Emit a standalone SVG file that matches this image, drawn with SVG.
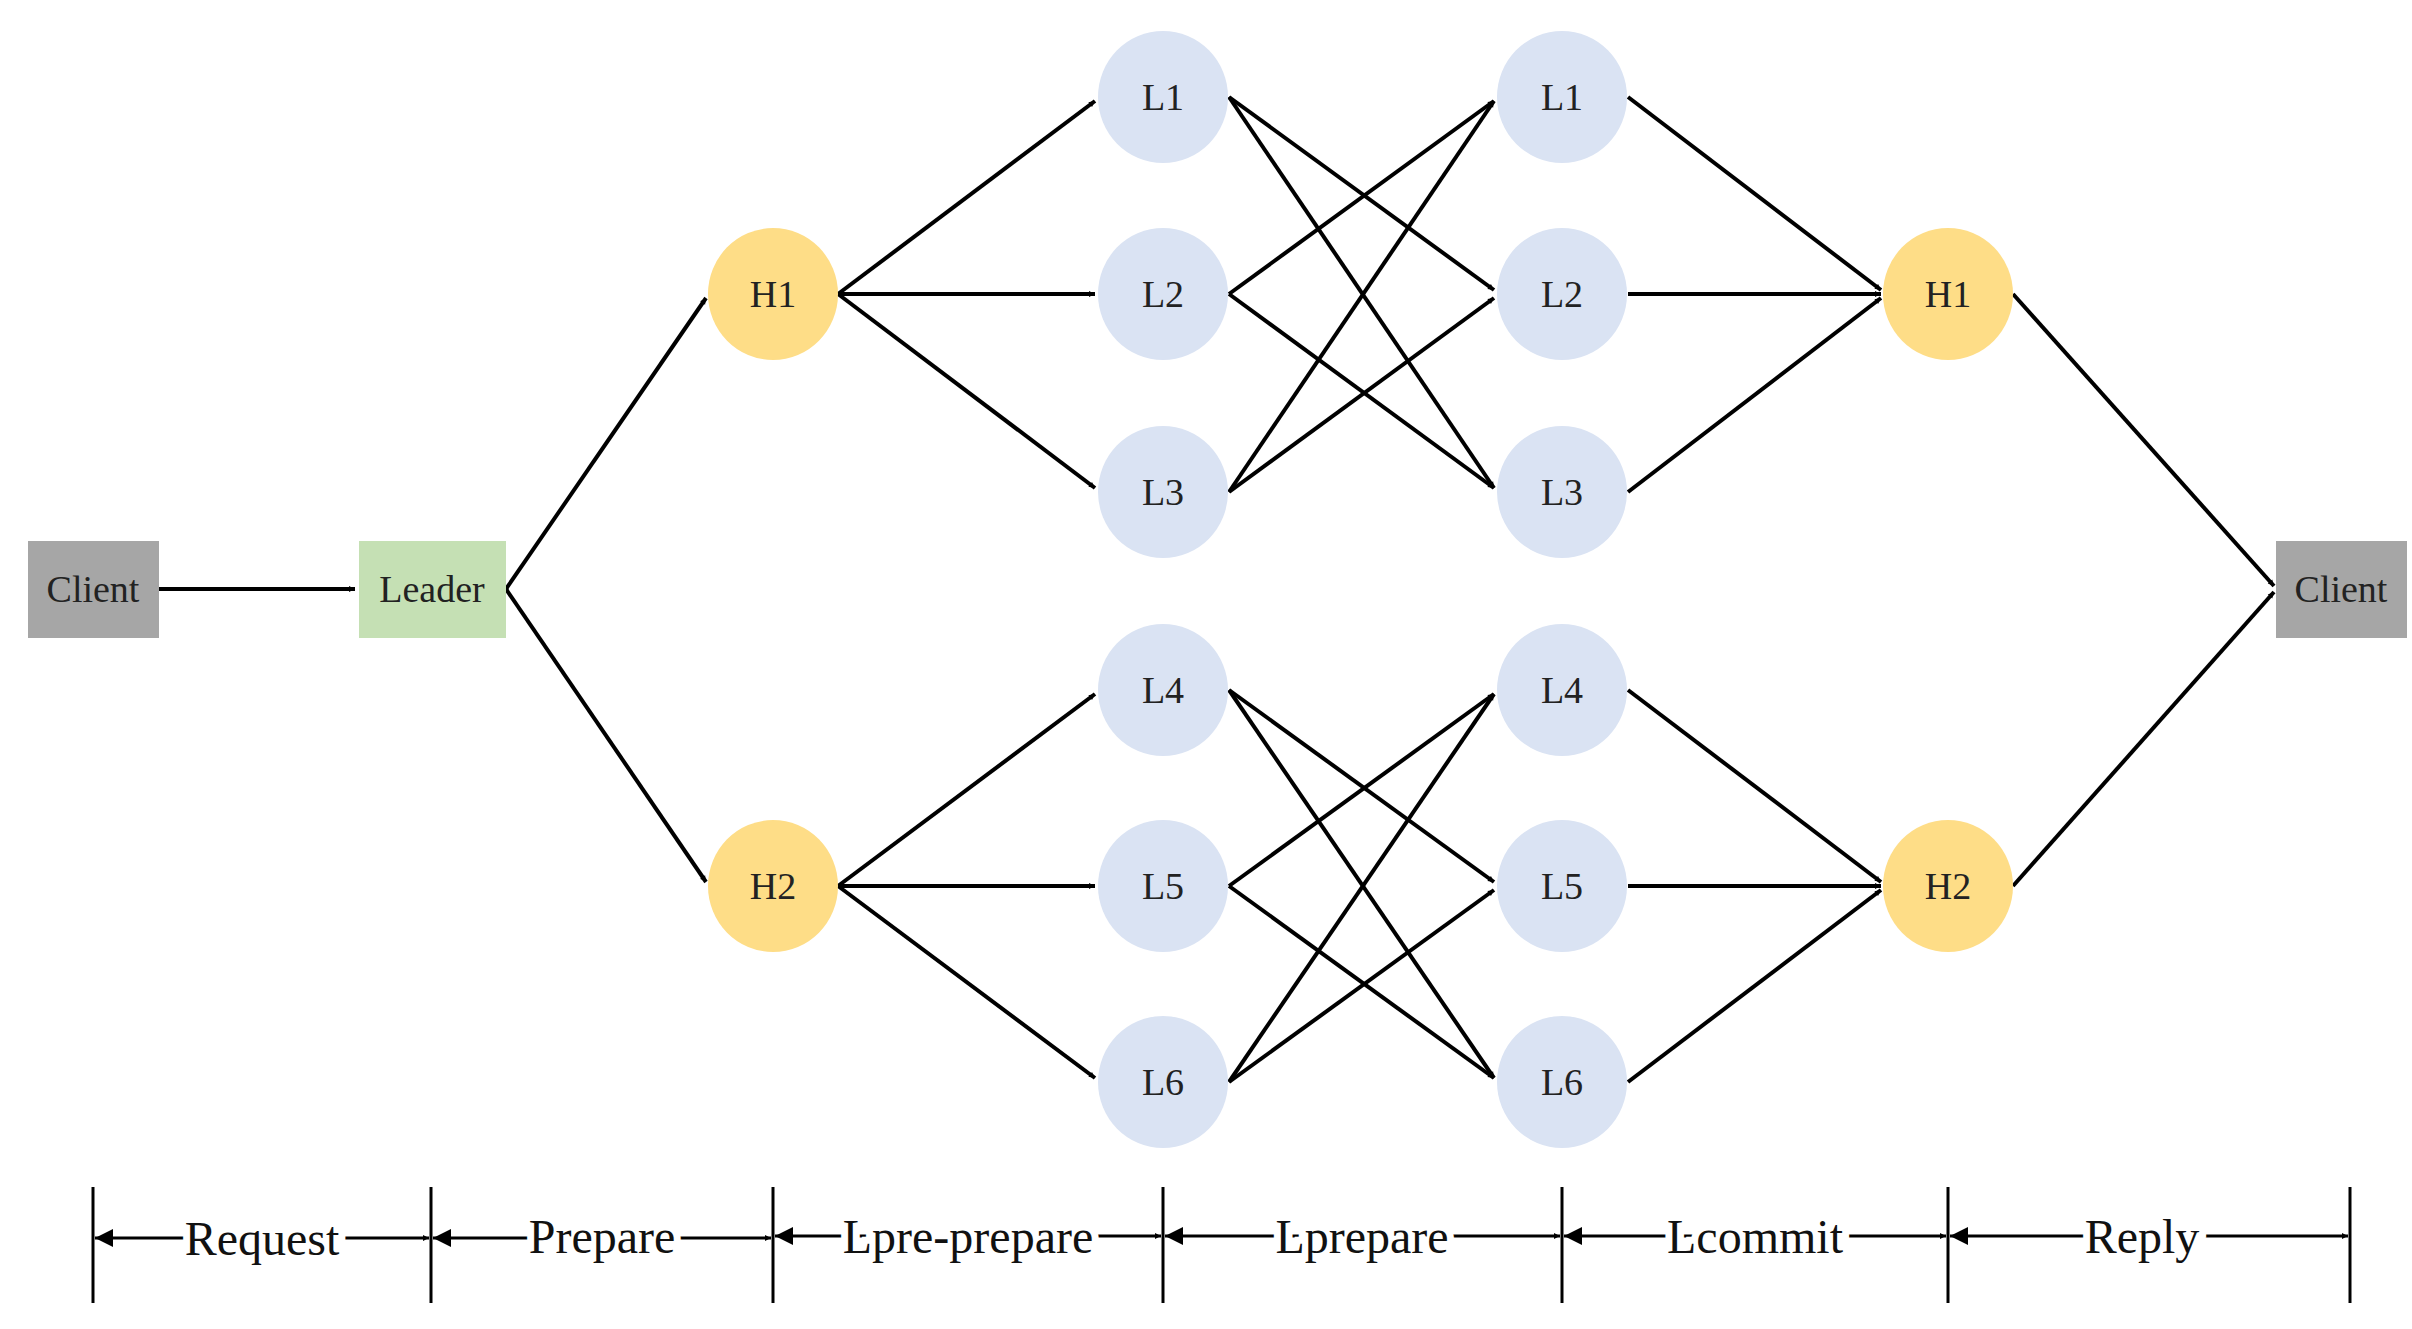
<svg xmlns="http://www.w3.org/2000/svg" width="2412" height="1329" viewBox="0 0 2412 1329">
<style>
.t{font-family:"Liberation Serif",serif;font-size:38px;fill:#222;text-anchor:middle;dominant-baseline:central}
.e line{stroke:#000;stroke-width:4;marker-end:url(#a)}
.L{fill:#dae3f3}.H{fill:#fedd87}
.tl line{stroke:#000;stroke-width:3}
.tl .s{marker-start:url(#b);marker-end:url(#a)}
.lab{font-family:"Liberation Serif",serif;font-size:48px;fill:#111;text-anchor:middle;dominant-baseline:central;stroke:#fff;stroke-width:14;paint-order:stroke}
</style>
<defs>
<marker id="a" viewBox="0 0 10 10" refX="10" refY="5" markerWidth="6" markerHeight="6" markerUnits="userSpaceOnUse" orient="auto" style="overflow:visible"><path d="M0,0 L10,5 L0,10 z"/></marker>
<marker id="b" viewBox="0 0 10 10" refX="0" refY="5" markerWidth="6" markerHeight="6" orient="auto"><path d="M10,0 L0,5 L10,10 z"/></marker>
</defs>
<rect width="2412" height="1329" fill="#fff"/>
<g class="e">
<line x1="159" y1="589" x2="355" y2="589"/>
<line x1="506" y1="589" x2="706" y2="298"/>
<line x1="506" y1="589" x2="706" y2="882"/>
<line x1="838" y1="294" x2="1095" y2="101"/>
<line x1="838" y1="294" x2="1095" y2="294"/>
<line x1="838" y1="294" x2="1095" y2="488"/>
<line x1="838" y1="886" x2="1095" y2="694"/>
<line x1="838" y1="886" x2="1095" y2="886"/>
<line x1="838" y1="886" x2="1095" y2="1078"/>
<line x1="1229" y1="97" x2="1494" y2="290"/>
<line x1="1229" y1="97" x2="1494" y2="488"/>
<line x1="1229" y1="294" x2="1494" y2="488"/>
<line x1="1229" y1="294" x2="1494" y2="101"/>
<line x1="1229" y1="492" x2="1494" y2="101"/>
<line x1="1229" y1="492" x2="1494" y2="298"/>
<line x1="1229" y1="690" x2="1494" y2="882"/>
<line x1="1229" y1="690" x2="1494" y2="1078"/>
<line x1="1229" y1="886" x2="1494" y2="1078"/>
<line x1="1229" y1="886" x2="1494" y2="694"/>
<line x1="1229" y1="1082" x2="1494" y2="694"/>
<line x1="1229" y1="1082" x2="1494" y2="890"/>
<line x1="1628" y1="97" x2="1881" y2="290"/>
<line x1="1628" y1="294" x2="1881" y2="294"/>
<line x1="1628" y1="492" x2="1881" y2="298"/>
<line x1="1628" y1="690" x2="1881" y2="882"/>
<line x1="1628" y1="886" x2="1881" y2="886"/>
<line x1="1628" y1="1082" x2="1881" y2="890"/>
<line x1="2013" y1="294" x2="2274" y2="586"/>
<line x1="2013" y1="886" x2="2274" y2="592"/>
</g>
<g id="client1"><rect x="28" y="541" width="131" height="97" fill="#a6a6a6"/><text class="t" x="93" y="589">Client</text></g>
<g id="leader"><rect x="359" y="541" width="147" height="97" fill="#c5e0b4"/><text class="t" x="432" y="589">Leader</text></g>
<g id="h1a"><ellipse class="H" cx="773" cy="294" rx="65" ry="66"/><text class="t" x="773" y="294">H1</text></g>
<g id="h2a"><ellipse class="H" cx="773" cy="886" rx="65" ry="66"/><text class="t" x="773" y="886">H2</text></g>
<g id="l1a"><ellipse class="L" cx="1163" cy="97" rx="65" ry="66"/><text class="t" x="1163" y="97">L1</text></g>
<g id="l2a"><ellipse class="L" cx="1163" cy="294" rx="65" ry="66"/><text class="t" x="1163" y="294">L2</text></g>
<g id="l3a"><ellipse class="L" cx="1163" cy="492" rx="65" ry="66"/><text class="t" x="1163" y="492">L3</text></g>
<g id="l4a"><ellipse class="L" cx="1163" cy="690" rx="65" ry="66"/><text class="t" x="1163" y="690">L4</text></g>
<g id="l5a"><ellipse class="L" cx="1163" cy="886" rx="65" ry="66"/><text class="t" x="1163" y="886">L5</text></g>
<g id="l6a"><ellipse class="L" cx="1163" cy="1082" rx="65" ry="66"/><text class="t" x="1163" y="1082">L6</text></g>
<g id="l1b"><ellipse class="L" cx="1562" cy="97" rx="65" ry="66"/><text class="t" x="1562" y="97">L1</text></g>
<g id="l2b"><ellipse class="L" cx="1562" cy="294" rx="65" ry="66"/><text class="t" x="1562" y="294">L2</text></g>
<g id="l3b"><ellipse class="L" cx="1562" cy="492" rx="65" ry="66"/><text class="t" x="1562" y="492">L3</text></g>
<g id="l4b"><ellipse class="L" cx="1562" cy="690" rx="65" ry="66"/><text class="t" x="1562" y="690">L4</text></g>
<g id="l5b"><ellipse class="L" cx="1562" cy="886" rx="65" ry="66"/><text class="t" x="1562" y="886">L5</text></g>
<g id="l6b"><ellipse class="L" cx="1562" cy="1082" rx="65" ry="66"/><text class="t" x="1562" y="1082">L6</text></g>
<g id="h1b"><ellipse class="H" cx="1948" cy="294" rx="65" ry="66"/><text class="t" x="1948" y="294">H1</text></g>
<g id="h2b"><ellipse class="H" cx="1948" cy="886" rx="65" ry="66"/><text class="t" x="1948" y="886">H2</text></g>
<g id="client2"><rect x="2276" y="541" width="131" height="97" fill="#a6a6a6"/><text class="t" x="2341" y="589">Client</text></g>
<g class="tl" id="timeline">
<line x1="93" y1="1187" x2="93" y2="1303"/><line x1="431" y1="1187" x2="431" y2="1303"/><line x1="773" y1="1187" x2="773" y2="1303"/><line x1="1163" y1="1187" x2="1163" y2="1303"/><line x1="1562" y1="1187" x2="1562" y2="1303"/><line x1="1948" y1="1187" x2="1948" y2="1303"/><line x1="2350" y1="1187" x2="2350" y2="1303"/>
<line class="s" x1="95" y1="1238" x2="429" y2="1238"/>
<line class="s" x1="433" y1="1238" x2="771" y2="1238"/>
<line class="s" x1="775" y1="1236" x2="1161" y2="1236"/>
<line class="s" x1="1165" y1="1236" x2="1560" y2="1236"/>
<line class="s" x1="1564" y1="1236" x2="1946" y2="1236"/>
<line class="s" x1="1950" y1="1236" x2="2348" y2="1236"/>
<text class="lab" x="262" y="1238">Request</text>
<text class="lab" x="602" y="1236">Prepare</text>
<text class="lab" x="968" y="1236">Lpre-prepare</text>
<text class="lab" x="1362" y="1236">Lprepare</text>
<text class="lab" x="1755" y="1236">Lcommit</text>
<text class="lab" x="2142" y="1236">Reply</text>
</g>
</svg>
